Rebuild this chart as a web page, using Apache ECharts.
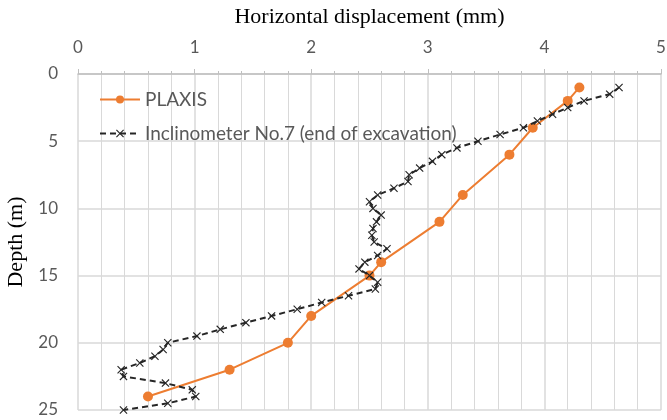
<!DOCTYPE html>
<html>
<head>
<meta charset="utf-8">
<script src="https://cdn.jsdelivr.net/npm/echarts@6/dist/echarts.min.js"></script>
<style>
  html, body { margin: 0; padding: 0; background: #fff; }
  #chart { width: 667px; height: 420px; }
</style>
</head>
<body>
<div id="chart"></div>
<script>
// PLAXIS result: depth (m) / horizontal displacement (mm)
const plaxisDepth = [1, 2, 4, 6, 9, 11, 14, 15, 18, 20, 22, 24];
const plaxisDisp = [4.3, 4.2, 3.9, 3.7, 3.3, 3.1, 2.6, 2.5, 2.0, 1.8, 1.3, 0.6];

// Inclinometer No.7 readings every 0.5 m
const inclDepth = [1, 1.5, 2, 2.5, 3, 3.5, 4, 4.5, 5, 5.5, 6, 6.5, 7, 7.5, 8, 8.5, 9, 9.5,
  10, 10.5, 11, 11.5, 12, 12.5, 13, 13.5, 14, 14.5, 15, 15.5, 16, 16.5, 17, 17.5, 18, 18.5,
  19, 19.5, 20, 20.5, 21, 21.5, 22, 22.5, 23, 23.5, 24, 24.5, 25];
const inclDisp = [4.64, 4.56, 4.34, 4.2, 4.07, 3.94, 3.82, 3.62, 3.43, 3.25, 3.12, 3.04, 2.93, 2.84, 2.83, 2.71, 2.57, 2.5,
  2.53, 2.6, 2.56, 2.53, 2.52, 2.54, 2.65, 2.57, 2.46, 2.41, 2.5, 2.57, 2.55, 2.32, 2.09, 1.88, 1.66, 1.44,
  1.22, 1.02, 0.77, 0.73, 0.66, 0.53, 0.37, 0.39, 0.75, 0.98, 1.01, 0.77, 0.39];

const xTicks = [0, 5, 1];   // min, max, interval
const yTicks = [0, 25, 5];

const crossMark = 'path://M0,1L1,0L5,4L9,0L10,1L6,5L10,9L9,10L5,6L1,10L0,9L4,5Z';
const grayTxt = '#595959';

const myChart = echarts.init(document.getElementById('chart'));
const option = {
  animation: false,
  grid: { left: 78, right: 6, top: 74, bottom: 10, outerBoundsMode: 'none' },
  legend: {
    orient: 'vertical',
    left: 94,
    top: 85,
    itemWidth: 40,
    itemHeight: 10,
    itemGap: 15,
    textStyle: { fontFamily: 'Lato', fontSize: 19, color: grayTxt },
    data: ['PLAXIS', 'Inclinometer No.7 (end of excavation)']
  },
  xAxis: {
    type: 'value',
    position: 'top',
    min: xTicks[0], max: xTicks[1], interval: xTicks[2],
    name: 'Horizontal displacement (mm)',
    nameLocation: 'middle',
    nameGap: 46,
    nameTextStyle: { fontFamily: 'Liberation Serif', fontSize: 22, color: '#000' },
    axisLine: { show: true, lineStyle: { color: '#bfbfbf', width: 1.5 } },
    axisTick: { show: true, inside: false, length: 5, lineStyle: { color: '#bfbfbf' } },
    minorTick: { show: true, splitNumber: 5, length: 3, lineStyle: { color: '#bfbfbf' } },
    axisLabel: { fontFamily: 'Lato', fontSize: 17, color: grayTxt, margin: 18 },
    splitLine: { show: true, lineStyle: { color: '#d9d9d9', width: 1.5 } },
    minorSplitLine: { show: true, lineStyle: { color: '#d9d9d9', width: 1 } }
  },
  yAxis: {
    type: 'value',
    inverse: true,
    min: yTicks[0], max: yTicks[1], interval: yTicks[2],
    name: 'Depth (m)',
    nameLocation: 'middle',
    nameGap: 50,
    nameRotate: 90,
    nameTextStyle: { fontFamily: 'Liberation Serif', fontSize: 22, color: '#000' },
    axisLine: { show: false },
    axisTick: { show: false },
    axisLabel: { fontFamily: 'Lato', fontSize: 17, color: grayTxt, margin: 20 },
    splitLine: { show: true, lineStyle: { color: '#d9d9d9', width: 1.5 } }
  },
  series: [
    {
      name: 'PLAXIS',
      type: 'line',
      data: plaxisDisp.map((v, i) => [v, plaxisDepth[i]]),
      symbol: 'circle',
      symbolSize: 10,
      showAllSymbol: true,
      lineStyle: { color: '#ed7d31', width: 2 },
      itemStyle: { color: '#ed7d31' },
      z: 3
    },
    {
      name: 'Inclinometer No.7 (end of excavation)',
      type: 'line',
      data: inclDisp.map((v, i) => [v, inclDepth[i]]),
      symbol: crossMark,
      symbolSize: 8,
      showAllSymbol: true,
      lineStyle: { color: '#262626', width: 2, type: [6, 4] },
      itemStyle: { color: '#262626' },
      z: 4
    }
  ]
};
myChart.setOption(option);
</script>
</body>
</html>
